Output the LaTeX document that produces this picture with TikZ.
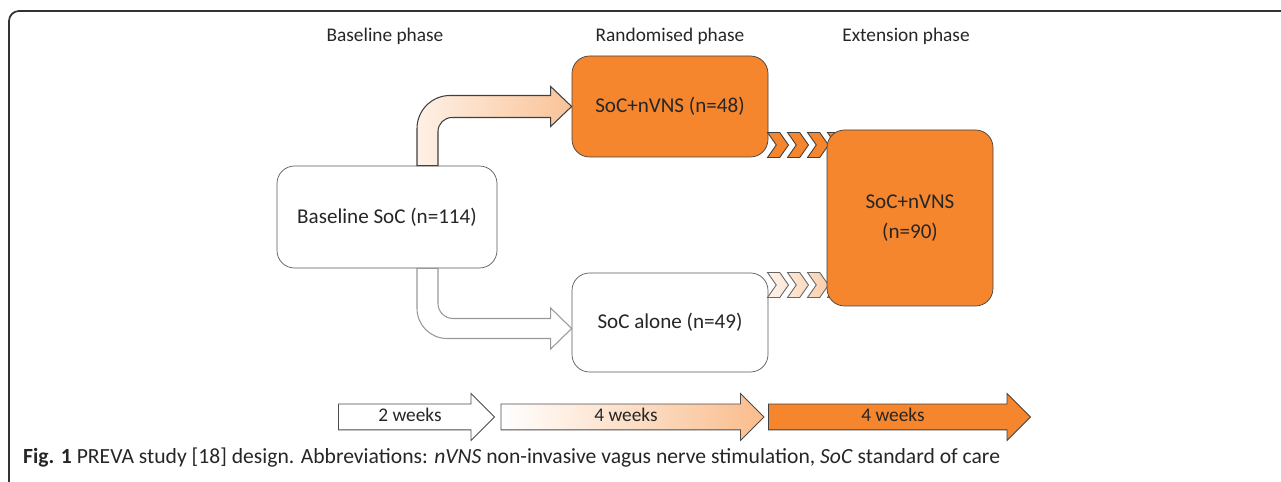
\documentclass[tikz,border=0pt]{standalone}
\usepackage{fontspec}
\setmainfont{Carlito}
\usepackage{tikz}
\usetikzlibrary{shapes, shapes.symbols, shapes.arrows, positioning, calc}
\definecolor{accent}{RGB}{245,134,46}
\definecolor{edge}{RGB}{64,64,64}
\definecolor{ink}{RGB}{38,38,38}

\begin{document}
\begin{tikzpicture}[
    % 1. styles
    phase/.style={font=\fontsize{11}{13}\selectfont, text=ink},
    whitebox/.style={draw=black!65, fill=white, rounded corners=0.35cm, font=\fontsize{12}{17}\selectfont, text=ink, align=center},
    orangebox/.style={draw=edge, fill=accent, rounded corners=0.35cm, font=\fontsize{12}{17}\selectfont, text=ink, align=center},
    chev/.style={signal, signal from=west, signal to=east, signal pointer angle=110, minimum width=0.42cm, minimum height=0.5cm, inner sep=0pt, draw=edge, line width=0.5pt},
    weeks/.style={single arrow, single arrow head extend=0.21cm, single arrow tip angle=90, minimum width=0.9cm, text height=0.3cm, text depth=0.1cm, inner ysep=0.05cm, inner xsep=0pt, draw=black!70, line width=0.5pt, font=\fontsize{11}{13}\selectfont, text=ink},
    bent/.style={line width=0.6pt},
    frame/.style={line width=1pt, black!80, rounded corners=0.2cm}
]
    \useasboundingbox (0,0) rectangle (25.62,9.64);

    % =================================================================
    % I. frame and phase titles
    % =================================================================
    \draw[frame] (0.18,-0.3) |- (25.9,9.42);
    \node[phase] (lblBase) at (7.70, 8.92) {Baseline phase};
    \node[phase] (lblRand) at (13.40, 8.92) {Randomised phase};
    \node[phase] (lblExt) at (18.12, 8.92) {Extension phase};

    % =================================================================
    % II. boxes
    % =================================================================
    \node[whitebox, minimum width=4.4cm, minimum height=2.04cm] (base) at (7.74, 5.30) {Baseline SoC (n=114)};
    \node[orangebox, minimum width=3.92cm, minimum height=2.02cm] (armA) at (13.40, 7.51) {SoC+nVNS (n=48)};
    \node[whitebox, minimum width=3.92cm, minimum height=1.98cm] (armB) at (13.40, 3.19) {SoC alone (n=49)};

    % chevrons (behind the extension box)
    \foreach \i in {0,...,3}
        \node[chev, fill=accent] (chA\i) at (15.56+0.4*\i, 6.74) {};
    \foreach \i/\a/\b in {0/10/20, 1/20/30, 2/30/40, 3/40/50}
        \node[chev, draw=black!60, left color=accent!\a!white, right color=accent!\b!white] (chB\i) at (15.56+0.4*\i, 3.94) {};

    \node[orangebox, minimum width=3.32cm, minimum height=3.52cm] (ext) at (18.20, 5.28) {SoC+nVNS\\(n=90)};

    % =================================================================
    % III. bent arrows
    % =================================================================
    \coordinate (sA) at ($(base.north)+(0.60,0)$);
    \coordinate (tA) at (armA.west);
    \draw[bent, draw=edge, left color=accent!12!white, right color=accent!50!white]
        (sA) -- ($(sA |- tA)+(0,-0.44)$) arc[start angle=180, end angle=90, radius=0.66]
        -- ($(tA)+(-0.42,0.22)$) -- ($(tA)+(-0.42,0.40)$) -- (tA)
        -- ($(tA)+(-0.42,-0.40)$) -- ($(tA)+(-0.42,-0.22)$)
        -- ($(sA |- tA)+(0.70,-0.22)$) arc[start angle=90, end angle=180, radius=0.28]
        -- ($(sA)+(0.42,0)$) -- cycle;

    \coordinate (sB) at ($(base.south)+(0.60,0)$);
    \coordinate (tB) at ($(armB.west)+(0,-0.12)$);
    \draw[bent, draw=black!40, fill=white]
        (sB) -- ($(sB |- tB)+(0,0.40)$) arc[start angle=180, end angle=270, radius=0.60]
        -- ($(tB)+(-0.42,-0.20)$) -- ($(tB)+(-0.42,-0.41)$) -- (tB)
        -- ($(tB)+(-0.42,0.41)$) -- ($(tB)+(-0.42,0.20)$)
        -- ($(sB |- tB)+(0.72,0.20)$) arc[start angle=270, end angle=180, radius=0.30]
        -- ($(sB)+(0.42,0)$) -- cycle;

    % =================================================================
    % IV. time line and caption
    % =================================================================
    \node[weeks, fill=white, minimum height=3.12cm] (wk1) at (8.20, 1.30) {2 weeks};
    \node[weeks, left color=white, right color=accent!55!white, minimum height=5.26cm] (wk2) at (12.52, 1.30) {4 weeks};
    \node[weeks, fill=accent, draw=edge, minimum height=5.24cm] (wk3) at (17.86, 1.30) {4 weeks};

    \node[anchor=west, font=\fontsize{12.3}{14}\selectfont, text=ink] (cap) at (0.34, 0.48)
        {\textbf{Fig. 1} PREVA study [18] design. Abbreviations: \textit{nVNS} non-invasive vagus nerve stimulation, \textit{SoC} standard of care};
\end{tikzpicture}
\end{document}
